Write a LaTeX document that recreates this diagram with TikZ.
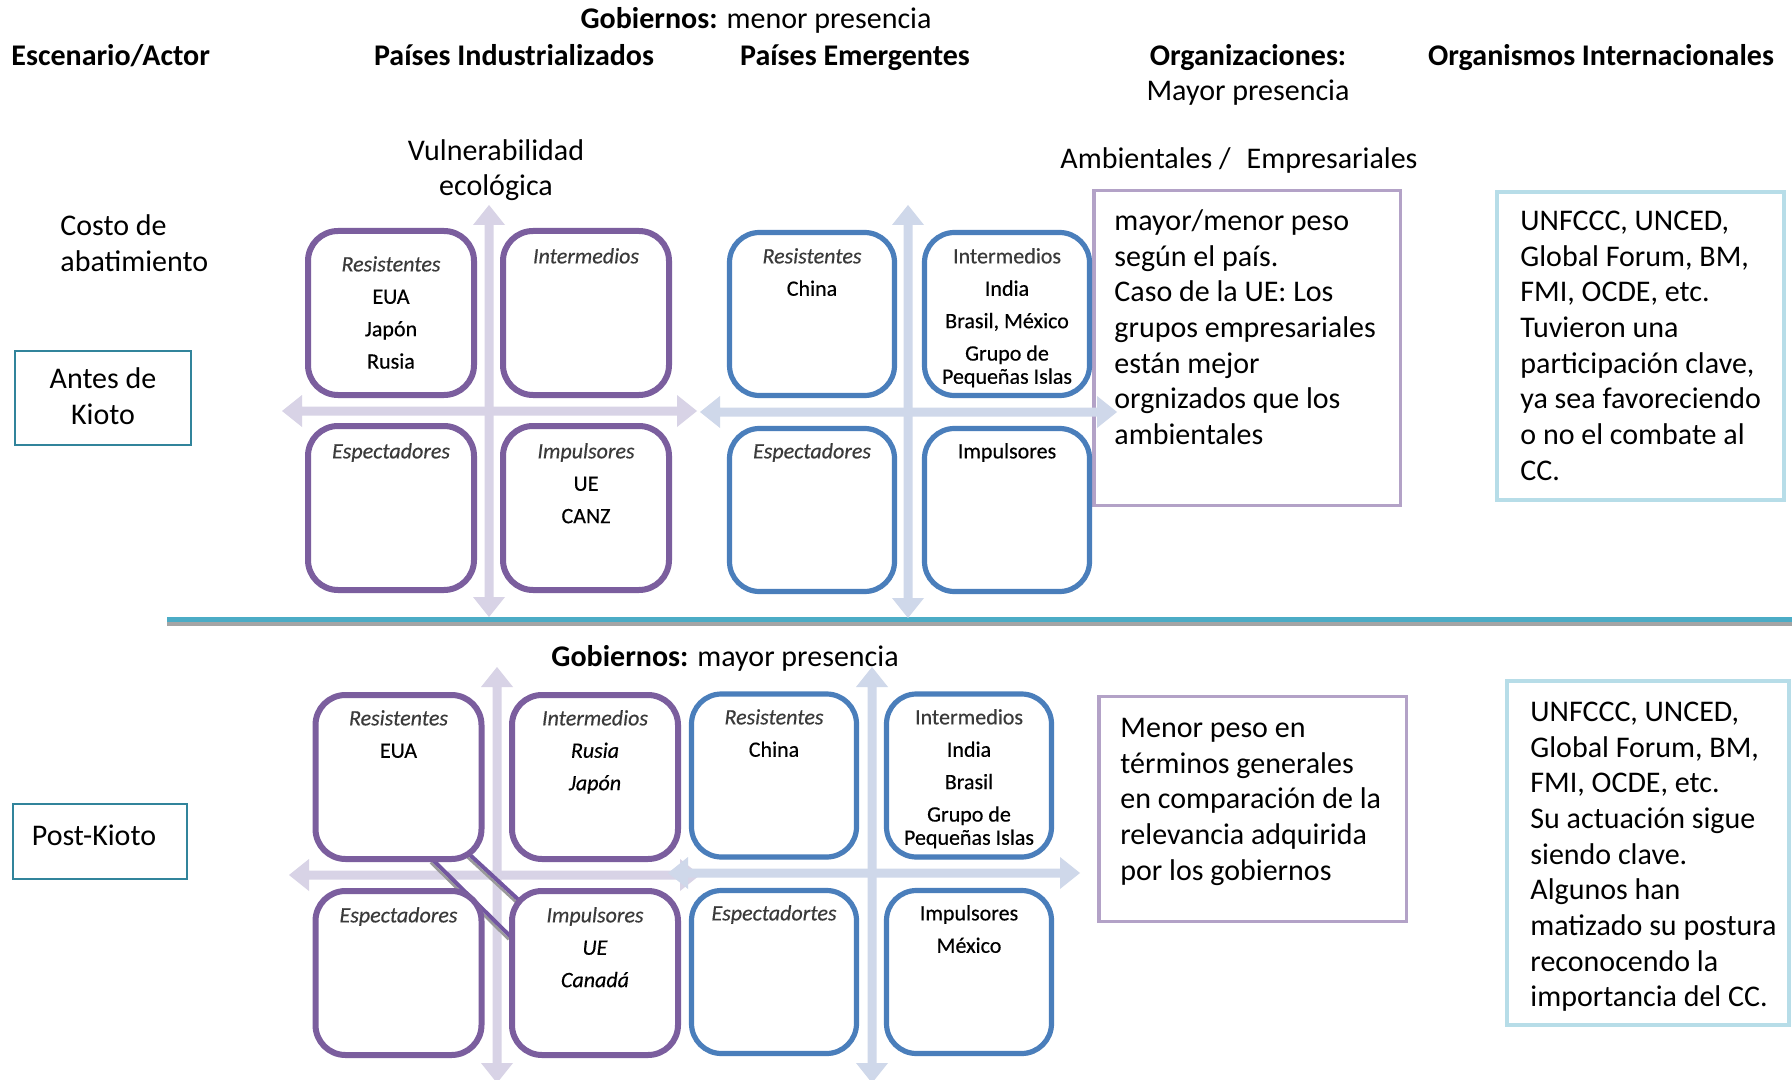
\documentclass[tikz,border=0pt]{standalone}
\usepackage{fontspec}
\setmainfont{Carlito}
\newfontfamily\qfont{Carlito}[FakeBold=0.4]
\usetikzlibrary{shadows}
\definecolor{qpurple}{HTML}{7B5E9E}
\definecolor{qblue}{HTML}{4A7EBB}
\definecolor{apurple}{HTML}{D8D3E6}
\definecolor{ablue}{HTML}{CFD8EA}
\definecolor{lpurple}{HTML}{B3A2C7}
\definecolor{lcyan}{HTML}{B7DDE8}
\definecolor{tealb}{HTML}{31849B}
\definecolor{aquab}{HTML}{4BACC6}
\definecolor{sepgray}{HTML}{A5A5A5}
\definecolor{labgray}{HTML}{3A3A3A}
\definecolor{diagp}{HTML}{7256A0}
\newcommand\blockH[4]{\fill[#1] (#2,#4) -- (#2+20,#4-16) -- (#2+20,#4-4.5) -- (#3-20,#4-4.5) -- (#3-20,#4-16) -- (#3,#4) -- (#3-20,#4+16) -- (#3-20,#4+4.5) -- (#2+20,#4+4.5) -- (#2+20,#4+16) -- cycle;}
\newcommand\blockV[4]{\fill[#1] (#2,#3) -- (#2+16,#3+20) -- (#2+4.5,#3+20) -- (#2+4.5,#4-20) -- (#2+16,#4-20) -- (#2,#4) -- (#2-16,#4-20) -- (#2-4.5,#4-20) -- (#2-4.5,#3+20) -- (#2-16,#3+20) -- cycle;}
\newcommand\lab[1]{{\strut\itshape\color{labgray}#1}}
\newcommand\labu[1]{{\strut\color{labgray}#1}}
\tikzset{
 qbox/.style={draw, rounded corners=15pt, fill=white, inner sep=0pt, line width=3pt, minimum width=83pt, minimum height=82pt, drop shadow={shadow xshift=0.6pt, shadow yshift=-1.2pt, opacity=0.3}},
 pq/.style={qbox, draw=qpurple},
 bq/.style={qbox, draw=qblue, line width=2.6pt, minimum width=82.5pt, minimum height=81.5pt},
 qt/.style={font=\qfont\fontsize{11}{16.2}\selectfont, inner sep=0pt, anchor=north, align=center},
 body/.style={font=\fontsize{15}{17.85}\selectfont, inner sep=0pt, anchor=north west, align=left},
 hd/.style={font=\fontsize{15}{18}\selectfont, inner sep=0pt, anchor=base},
 hdb/.style={hd, font=\fontsize{15}{18}\selectfont\bfseries},
 tbox/.style={draw, inner sep=0pt, fill=white},
 diag/.style={diagp, line width=2pt},
 diagsh/.style={gray!80, line width=1.3pt, transform canvas={xshift=-1.2pt, yshift=-1.2pt}},
}
\begin{document}
\begin{tikzpicture}[x=0.5pt, y=-0.5pt]
\useasboundingbox (0,0) rectangle (1792,1080);
\fill[white] (0,0) rectangle (1792,1080);

% headers
\node[hdb, anchor=base west] (h1) at (11,66) {Escenario/Actor};
\node[hdb] (h2) at (514,66) {Países Industrializados};
\node[hdb] (h3) at (855,66) {Países Emergentes};
\node[hdb] (h4) at (1248,66) {Organizaciones:};
\node[hd] (h4b) at (1248,101) {Mayor presencia};
\node[hdb] (h5) at (1601,66) {Organismos Internacionales};
\node[hd] (gob1) at (756,29) {\textbf{Gobiernos:} menor presencia};
\node[hd] (gob2) at (725,666) {\textbf{Gobiernos:} mayor presencia};
\node[hd] (vul) at (496,161) {Vulnerabilidad};
\node[hd] (eco) at (496,196) {ecológica};
\node[hd, anchor=base west] (amb) at (1060,169) {Ambientales /\hspace{8pt}Empresariales};
\node[body] (costo) at (60,210) {\strut Costo de\\abatimiento};

% scenario boxes
\node[tbox, draw=tealb, line width=1pt, minimum width=88pt, minimum height=47pt] (antes) at (103,398) {};
\node[body, anchor=north, align=center] (antest) at (103,363) {\strut Antes de\\Kioto};
\node[tbox, draw=tealb, line width=1pt, minimum width=87pt, minimum height=37.5pt] (post) at (100,841.5) {};
\node[hd] (postt) at (94,845) {Post-Kioto};

% separator
\fill[sepgray] (167,621) rectangle (1792,626);
\fill[aquab] (167,616.5) rectangle (1792,622);

% text boxes
\node[tbox, draw=lpurple, line width=1.75pt, minimum width=153.25pt, minimum height=157.25pt] (org1) at (1247,348) {};
\node[tbox, draw=lcyan, line width=2pt, minimum width=143.5pt, minimum height=154pt] (oi1) at (1640.5,346) {};
\node[tbox, draw=lpurple, line width=1.75pt, minimum width=153.75pt, minimum height=112.5pt] (org2) at (1252.5,809) {};
\node[tbox, draw=lcyan, line width=2pt, minimum width=141pt, minimum height=172pt] (oi2) at (1648,853) {};

\node[body] (org1t) at (1114,205) {\strut mayor/menor peso\\según el país.\\Caso de la UE: Los\\grupos empresariales\\están mejor\\orgnizados que los\\ambientales};
\node[body] (oi1t) at (1520,205) {\strut UNFCCC, UNCED,\\Global Forum, BM,\\FMI, OCDE, etc.\\Tuvieron una\\participación clave,\\ya sea favoreciendo\\o no el combate al\\CC.};
\node[body] (org2t) at (1120,712) {\strut Menor peso en\\términos generales\\en comparación de la\\relevancia adquirida\\por los gobiernos};
\node[body] (oi2t) at (1530,696) {\strut UNFCCC, UNCED,\\Global Forum, BM,\\FMI, OCDE, etc.\\Su actuación sigue\\siendo clave.\\Algunos han\\matizado su postura\\reconocendo la\\importancia del CC.};

% arrows
\blockH{apurple}{282}{697}{411}
\blockV{apurple}{489}{205}{617}
\blockH{ablue}{700}{1117}{412}
\blockV{ablue}{908}{205}{618}
\blockH{apurple}{289}{700}{875}
\blockV{apurple}{497}{667}{1083}
\blockH{ablue}{668}{1080}{873}
\blockV{ablue}{872}{667}{1083}

% diagonal links (lower purple)
\coordinate (dA1) at (433,860); \coordinate (dA2) at (511,937);
\coordinate (dB1) at (469,854); \coordinate (dB2) at (522,903);
\draw[diagsh] (dA1) -- (dA2);
\draw[diagsh] (dB1) -- (dB2);
\draw[diag] (dA1) -- (dA2);
\draw[diag] (dB1) -- (dB2);

% upper purple quadrant
\node[pq] (up1) at (391,313) {};
\node[pq] (up2) at (586,313) {};
\node[pq] (up3) at (391,508) {};
\node[pq] (up4) at (586,508) {};
% upper blue quadrant
\node[bq] (ub1) at (812,314) {};
\node[bq] (ub2) at (1007,314) {};
\node[bq] (ub3) at (812,510) {};
\node[bq] (ub4) at (1007,510) {};
% lower purple quadrant
\node[pq] (lp1) at (398.5,777) {};
\node[pq] (lp2) at (595,777) {};
\node[pq] (lp3) at (398.5,973) {};
\node[pq] (lp4) at (595,973) {};
% lower blue quadrant
\node[bq] (lb1) at (774,775.5) {};
\node[bq] (lb2) at (969,775.5) {};
\node[bq] (lb3) at (774,972) {};
\node[bq] (lb4) at (969,972) {};

% quadrant texts upper purple
\node[qt] (up1t) at (391,248.3) {\lab{Resistentes}\\EUA\\Japón\\Rusia};
\node[qt] (up2t) at (586,240.3) {\lab{Intermedios}};
\node[qt] (up3t) at (391,435.3) {\lab{Espectadores}};
\node[qt] (up4t) at (586,435.3) {\lab{Impulsores}\\UE\\CANZ};
% upper blue
\node[qt] (ub1t) at (812,240.3) {\lab{Resistentes}\\China};
\node[qt] (ub2t) at (1007,240.3) {\labu{Intermedios}\\India\\Brasil, México\\Grupo de\\[-4.6pt]Pequeñas Islas};
\node[qt] (ub3t) at (812,435.3) {\lab{Espectadores}};
\node[qt] (ub4t) at (1007,435.3) {\strut Impulsores};
% lower purple
\node[qt] (lp1t) at (398.5,702.3) {\lab{Resistentes}\\EUA};
\node[qt] (lp2t) at (595,702.3) {\lab{Intermedios}\\\textit{Rusia}\\\textit{Japón}};
\node[qt] (lp3t) at (398.5,899.3) {\lab{Espectadores}};
\node[qt] (lp4t) at (595,899.3) {\lab{Impulsores}\\\textit{UE}\\\textit{Canadá}};
% lower blue
\node[qt] (lb1t) at (774,701.3) {\lab{Resistentes}\\China};
\node[qt] (lb2t) at (969,701.3) {\labu{Intermedios}\\India\\Brasil\\Grupo de\\[-4.6pt]Pequeñas Islas};
\node[qt] (lb3t) at (774,897.3) {\lab{Espectadortes}};
\node[qt] (lb4t) at (969,897.3) {\strut Impulsores\\México};
\end{tikzpicture}
\end{document}
